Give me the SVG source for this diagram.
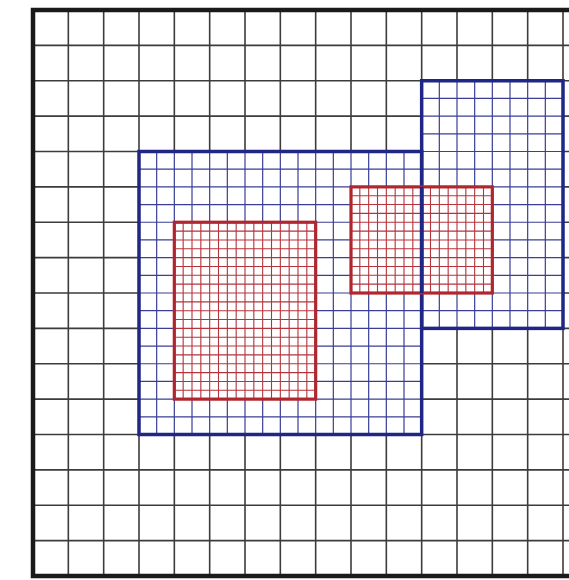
<svg xmlns="http://www.w3.org/2000/svg" width="569" height="580" viewBox="0 0 569 580">
<style>
.coarse{stroke:#3c3c3c;stroke-width:1.6;fill:none}
.bfine{stroke:#3a3f95;stroke-width:1.2;fill:none}
.rfine{stroke:#b4343c;stroke-width:1.1;fill:none}
.bbox{stroke:#1f2686;stroke-width:3.5;fill:none}
.rbox{stroke:#b0262f;stroke-width:3.2;fill:none}
.outer{stroke:#1a1a1a;stroke-width:4.5;fill:none}
.fill{fill:#ffffff;stroke:none}
</style>
<rect x="0" y="0" width="569" height="580" fill="#ffffff"/>
<g id="coarse-grid">
<path class="coarse" d="M68.33 10V576M103.67 10V576M139 10V576M174.33 10V576M209.67 10V576M245 10V576M280.33 10V576M315.67 10V576M351 10V576M386.33 10V576M421.67 10V576M457 10V576M492.33 10V576M527.67 10V576M563 10V576"/>
<path class="coarse" d="M33 45.38H569M33 80.75H569M33 116.13H569M33 151.5H569M33 186.88H569M33 222.25H569M33 257.63H569M33 293H569M33 328.38H569M33 363.75H569M33 399.13H569M33 434.5H569M33 469.88H569M33 505.25H569M33 540.63H569"/>
</g>
<g id="blue-patch-1">
<rect class="fill" x="139" y="151.5" width="282.67" height="283"/>
<path class="bfine" d="M156.67 151.5V434.5M174.33 151.5V434.5M192 151.5V434.5M209.67 151.5V434.5M227.33 151.5V434.5M245 151.5V434.5M262.67 151.5V434.5M280.33 151.5V434.5M298 151.5V434.5M315.67 151.5V434.5M333.33 151.5V434.5M351 151.5V434.5M368.67 151.5V434.5M386.33 151.5V434.5M404 151.5V434.5"/>
<path class="bfine" d="M139 169.19H421.67M139 186.88H421.67M139 204.56H421.67M139 222.25H421.67M139 239.94H421.67M139 257.63H421.67M139 275.31H421.67M139 293H421.67M139 310.69H421.67M139 328.38H421.67M139 346.06H421.67M139 363.75H421.67M139 381.44H421.67M139 399.13H421.67M139 416.81H421.67"/>
</g>
<g id="blue-patch-2">
<rect class="fill" x="421.67" y="80.75" width="141.33" height="247.63"/>
<path class="bfine" d="M439.33 80.75V328.38M457 80.75V328.38M474.67 80.75V328.38M492.33 80.75V328.38M510 80.75V328.38M527.67 80.75V328.38M545.33 80.75V328.38"/>
<path class="bfine" d="M421.67 98.44H563M421.67 116.13H563M421.67 133.81H563M421.67 151.5H563M421.67 169.19H563M421.67 186.88H563M421.67 204.56H563M421.67 222.25H563M421.67 239.94H563M421.67 257.63H563M421.67 275.31H563M421.67 293H563M421.67 310.69H563"/>
</g>
<g id="red-patch-1">
<rect class="fill" x="174.33" y="222.25" width="141.33" height="176.88"/>
<path class="rfine" d="M183.17 222.25V399.13M192 222.25V399.13M200.83 222.25V399.13M209.67 222.25V399.13M218.5 222.25V399.13M227.33 222.25V399.13M236.17 222.25V399.13M245 222.25V399.13M253.83 222.25V399.13M262.67 222.25V399.13M271.5 222.25V399.13M280.33 222.25V399.13M289.17 222.25V399.13M298 222.25V399.13M306.83 222.25V399.13"/>
<path class="rfine" d="M174.33 231.09H315.67M174.33 239.94H315.67M174.33 248.78H315.67M174.33 257.63H315.67M174.33 266.47H315.67M174.33 275.31H315.67M174.33 284.16H315.67M174.33 293H315.67M174.33 301.84H315.67M174.33 310.69H315.67M174.33 319.53H315.67M174.33 328.38H315.67M174.33 337.22H315.67M174.33 346.06H315.67M174.33 354.91H315.67M174.33 363.75H315.67M174.33 372.59H315.67M174.33 381.44H315.67M174.33 390.28H315.67"/>
</g>
<g id="red-patch-2">
<rect class="fill" x="351" y="186.88" width="141.33" height="106.13"/>
<path class="rfine" d="M359.83 186.88V293M368.67 186.88V293M377.5 186.88V293M386.33 186.88V293M395.17 186.88V293M404 186.88V293M412.83 186.88V293M421.67 186.88V293M430.5 186.88V293M439.33 186.88V293M448.17 186.88V293M457 186.88V293M465.83 186.88V293M474.67 186.88V293M483.5 186.88V293"/>
<path class="rfine" d="M351 195.72H492.33M351 204.56H492.33M351 213.41H492.33M351 222.25H492.33M351 231.09H492.33M351 239.94H492.33M351 248.78H492.33M351 257.63H492.33M351 266.47H492.33M351 275.31H492.33M351 284.16H492.33"/>
</g>
<g id="patch-borders">
<rect class="bbox" x="139" y="151.5" width="282.67" height="283"/>
<rect class="bbox" x="421.67" y="80.75" width="141.33" height="247.63"/>
<rect class="rbox" x="174.33" y="222.25" width="141.33" height="176.88"/>
<rect class="rbox" x="351" y="186.88" width="141.33" height="106.13"/>
<path class="bbox" d="M421.67 186.88V293"/>
</g>
<g id="domain-border">
<path class="outer" d="M569 10H33V576H569"/>
</g>
</svg>
